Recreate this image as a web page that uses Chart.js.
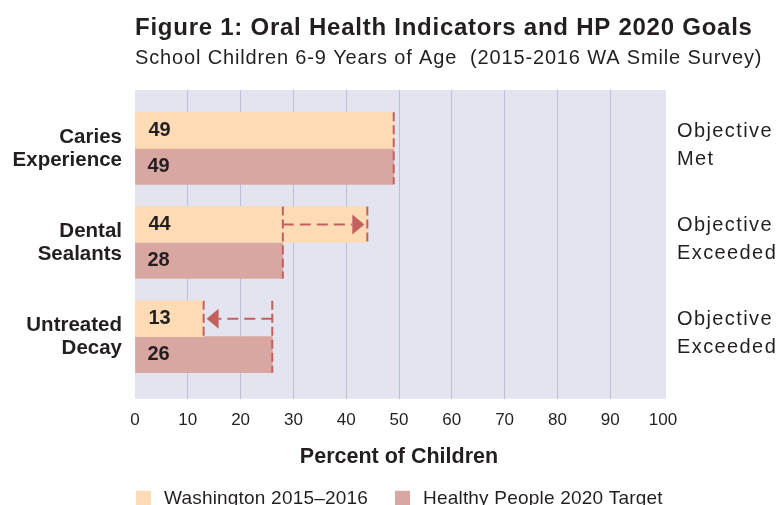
<!DOCTYPE html>
<html lang="en">
<head>
  <meta charset="UTF-8" />
  <title>Figure 1: Oral Health Indicators and HP 2020 Goals</title>
  <script src="https://cdn.jsdelivr.net/npm/chart.js@4.4.0/dist/chart.umd.min.js"></script>
  <style>
    html, body { margin: 0; padding: 0; background: #fff; overflow: hidden; }
    #wrap { position: relative; width: 776px; height: 505px; }
  </style>
</head>
<body>
  <div id="wrap"><canvas id="chart"></canvas></div>
  <script>
    const categories = [['Caries', 'Experience'], ['Dental', 'Sealants'], ['Untreated', 'Decay']];
    const washington = [49, 44, 13];
    const hpTarget = [49, 28, 26];
    const outcomes = [['Objective', 'Met'], ['Objective', 'Exceeded'], ['Objective', 'Exceeded']];
    const xTicks = [0, 10, 20, 30, 40, 50, 60, 70, 80, 90, 100];
    const seriesNames = ['Washington 2015\u20132016', 'Healthy People 2020 Target'];

    const FONT = '"Liberation Sans", Arial, sans-serif';
    const INK = '#231f20';
    const DASH = '#c2605d';

    // lavender plot background
    const backdrop = {
      id: 'backdrop',
      beforeDraw(chart) {
        const { ctx, chartArea: a } = chart;
        ctx.save();
        ctx.fillStyle = '#e4e4f0';
        ctx.fillRect(a.left, a.top, a.right - a.left + 3, a.bottom - a.top);
        ctx.restore();
      }
    };

    // title, subtitle, right-hand notes and the legend row
    const texts = {
      id: 'texts',
      afterDraw(chart) {
        const { ctx, scales, chartArea: a } = chart;
        ctx.save();
        ctx.fillStyle = INK;
        ctx.textBaseline = 'middle';
        ctx.textAlign = 'left';
        ctx.font = `bold 24px ${FONT}`;
        ctx.letterSpacing = '0.75px';
        ctx.fillText('Figure 1: Oral Health Indicators and HP 2020 Goals', 135, 28);
        ctx.font = `20px ${FONT}`;
        ctx.letterSpacing = '0.85px';
        ctx.fillText('School Children 6-9 Years of Age  (2015-2016 WA Smile Survey)', 135, 58);

        ctx.font = `20px ${FONT}`;
        ctx.letterSpacing = '1.4px';
        outcomes.forEach((lines, i) => {
          const y = scales.y.getPixelForValue(i) - 3;
          ctx.fillText(lines[0], 677, y - 14);
          ctx.fillText(lines[1], 677, y + 14);
        });

        // legend
        ctx.font = `19px ${FONT}`;
        ctx.letterSpacing = '0.2px';
        const legendX = [a.left + 1, a.left + 260];
        const legendY = a.bottom + 99;
        chart.data.datasets.forEach((ds, i) => {
          ctx.fillStyle = ds.backgroundColor;
          ctx.fillRect(legendX[i], legendY - 7, 15, 15);
          ctx.fillStyle = INK;
          ctx.fillText(ds.label, legendX[i] + 28, legendY + 1);
        });
        ctx.restore();
      }
    };

    // value labels, dashed bar ends and arrows
    const marks = {
      id: 'marks',
      afterDatasetsDraw(chart) {
        const { ctx } = chart;
        const wa = chart.getDatasetMeta(0).data;
        const hp = chart.getDatasetMeta(1).data;
        ctx.save();
        ctx.fillStyle = INK;
        ctx.font = `bold 20px ${FONT}`;
        ctx.textBaseline = 'middle';
        ctx.textAlign = 'left';
        wa.forEach((bar, i) => {
          ctx.fillText(String(washington[i]), bar.base + 13, bar.y);
          ctx.fillText(String(hpTarget[i]), hp[i].base + 12, hp[i].y);
        });

        ctx.strokeStyle = DASH;
        ctx.lineWidth = 2;
        ctx.setLineDash([9, 4]);
        wa.forEach((bar, i) => {
          const top = bar.y - bar.height / 2;
          const bottom = hp[i].y + hp[i].height / 2;
          ctx.beginPath();
          ctx.moveTo(bar.x, top);
          ctx.lineTo(bar.x, bar.y + bar.height / 2);
          ctx.moveTo(hp[i].x, top);
          ctx.lineTo(hp[i].x, bottom);
          ctx.stroke();
        });

        wa.forEach((bar, i) => {
          if (washington[i] === hpTarget[i]) return;
          const from = hp[i].x;
          const to = bar.x;
          const dir = Math.sign(to - from);
          const tip = to - dir * 3;
          const headBase = tip - dir * 12;
          ctx.setLineDash([11, 6]);
          ctx.beginPath();
          ctx.moveTo(from, bar.y);
          ctx.lineTo(headBase, bar.y);
          ctx.stroke();
          ctx.setLineDash([]);
          ctx.fillStyle = DASH;
          ctx.beginPath();
          ctx.moveTo(tip, bar.y);
          ctx.lineTo(headBase, bar.y - 10);
          ctx.lineTo(headBase, bar.y + 10);
          ctx.closePath();
          ctx.fill();
        });
        ctx.restore();
      }
    };

    new Chart(document.getElementById('chart'), {
      type: 'bar',
      data: {
        datasets: [
          {
            label: seriesNames[0],
            data: washington.map((v, i) => ({ x: v, y: i })),
            backgroundColor: '#fddcb5'
          },
          {
            label: seriesNames[1],
            data: hpTarget.map((v, i) => ({ x: v, y: i })),
            backgroundColor: '#d9a7a2'
          }
        ]
      },
      options: {
        indexAxis: 'y',
        responsive: true,
        maintainAspectRatio: false,
        animation: false,
        barThickness: 36,
        layout: { padding: { top: 90, right: 113, bottom: 35, left: 0 } },
        scales: {
          x: {
            min: 0,
            max: 100,
            afterBuildTicks: s => { s.ticks = xTicks.map(v => ({ value: v })); },
            grid: {
              drawTicks: false,
              color: c => (c.tick && (c.tick.value === 0 || c.tick.value === 100)) ? 'rgba(0,0,0,0)' : '#b9bedb',
              lineWidth: 1
            },
            border: { display: false },
            ticks: { color: INK, font: { family: FONT, size: 17 }, padding: 11 },
            title: {
              display: true,
              text: 'Percent of Children',
              color: INK,
              font: { family: FONT, size: 21.5, weight: 'bold' },
              padding: { top: 3, bottom: 0 }
            }
          },
          y: {
            type: 'linear',
            reverse: true,
            offset: false,
            min: -0.62,
            max: 2.66,
            afterBuildTicks: s => { s.ticks = categories.map((c, i) => ({ value: i })); },
            afterFit: s => { s.width = 135; },
            grid: { display: false, drawTicks: false },
            border: { display: false },
            ticks: {
              color: INK,
              padding: 13,
              font: { family: FONT, size: 20.5, weight: 'bold', lineHeight: 1.12 },
              callback: v => categories[v]
            }
          }
        },
        plugins: {
          legend: { display: false },
          tooltip: { enabled: false }
        }
      },
      plugins: [backdrop, marks, texts]
    });
  </script>
</body>
</html>
